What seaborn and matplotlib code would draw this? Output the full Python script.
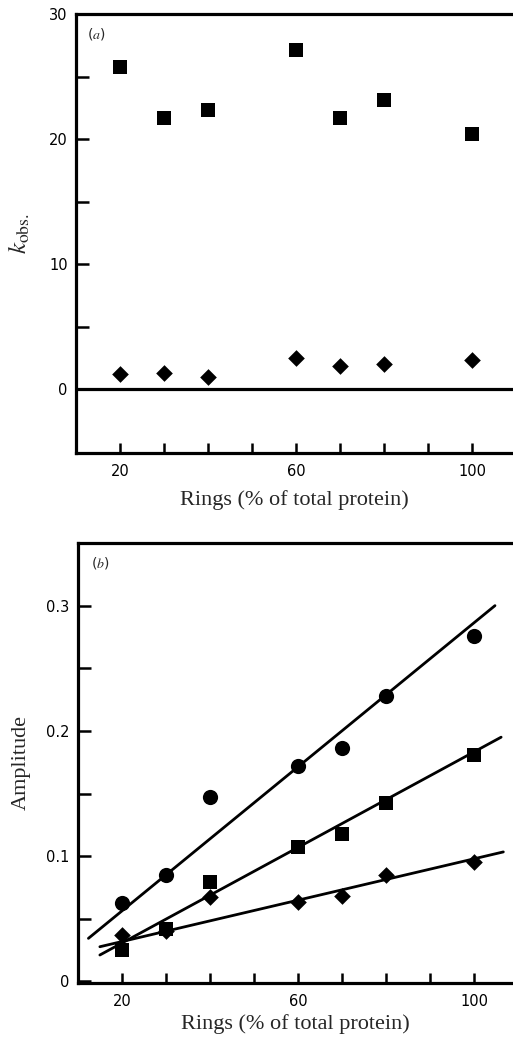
import numpy as np
import pandas as pd
import matplotlib
matplotlib.use("Agg")
import matplotlib.pyplot as plt
import seaborn as sns

# ---------------- data ----------------
rings = [20, 30, 40, 60, 70, 80, 100]

# panel (a): k_obs.
kobs_square = [25.8, 21.7, 22.3, 27.1, 21.7, 23.1, 20.4]
kobs_diamond = [1.25, 1.3, 0.98, 2.5, 1.87, 2.05, 2.3]

# panel (b): amplitude
amp_circle = [0.063, 0.085, 0.147, 0.172, 0.186, 0.2275, 0.2755]
amp_square = [0.025, 0.042, 0.0795, 0.107, 0.118, 0.1425, 0.1805]
amp_diamond = [0.037, 0.040, 0.0676, 0.0636, 0.068, 0.085, 0.0955]

# fitted lines (end points)
line_circle_x = [12.3, 104.7]
line_circle_y = [0.0344, 0.300]
line_square_x = [14.9, 106.1]
line_square_y = [0.0211, 0.195]
line_diamond_x = [14.9, 106.6]
line_diamond_y = [0.0277, 0.1034]

xticks = [20, 30, 40, 50, 60, 70, 80, 90, 100]
xticklabels = ["20", "", "", "", "60", "", "", "", "100"]
yticks_a = [0, 5, 10, 15, 20, 25, 30]
yticklabels_a = ["0", "", "10", "", "20", "", "30"]
yticks_b = [0, 0.05, 0.1, 0.15, 0.2, 0.25, 0.3]
yticklabels_b = ["0", "", "0.1", "", "0.2", "", "0.3"]

xlabel = "Rings (% of total protein)"

# ---------------- style ----------------
sns.set_theme(style="ticks")
plt.rcParams["font.family"] = ["DejaVu Sans"]
plt.rcParams["mathtext.fontset"] = "stix"

W, H = 513, 1042
fig = plt.figure(figsize=(W / 100, H / 100), dpi=100)

def px_axes(left, top, right, bottom):
    return fig.add_axes([left / W, 1 - bottom / H, (right - left) / W, (bottom - top) / H])

ax1 = px_axes(76, 14, 513, 453)
ax2 = px_axes(77.7, 543, 513, 982.7)

spine_lw = 2.3
serif = "Liberation Serif"

def style_axes(ax):
    for s in ["left", "bottom", "top"]:
        ax.spines[s].set_linewidth(spine_lw)
        ax.spines[s].set_color("black")
    ax.spines["right"].set_visible(False)
    ax.tick_params(axis="x", direction="in", length=7, width=1.8, pad=8,
                   labelsize=10.5, colors="black")
    ax.tick_params(axis="y", direction="in", length=9.5, width=1.8, pad=6,
                   labelsize=10.5, colors="black")
    ax.set_facecolor("white")

# ---------------- panel (a) ----------------
df_a = pd.DataFrame({"rings": rings, "sq": kobs_square, "di": kobs_diamond})
sns.scatterplot(data=df_a, x="rings", y="sq", marker="s", s=100, color="black",
                edgecolor="black", linewidth=0, ax=ax1)
sns.scatterplot(data=df_a, x="rings", y="di", marker="D", s=72, color="black",
                edgecolor="black", linewidth=0, ax=ax1)
ax1.axhline(0, color="black", lw=spine_lw)
ax1.set_xlim(10, 10 + (513 - 76) / 4.4)
ax1.set_ylim(-5.1, 30)
ax1.set_xticks(xticks)
ax1.set_xticklabels(xticklabels)
ax1.set_yticks(yticks_a)
ax1.set_yticklabels(yticklabels_a)
style_axes(ax1)
ax1.set_xlabel(xlabel, family=serif, fontsize=16, labelpad=8)
ax1.set_ylabel(r"$k_{\mathrm{obs.}}$", fontsize=18, labelpad=12)
ax1.text(0.025, 0.955, r"($\mathit{a}$)", transform=ax1.transAxes, fontsize=10,
         ha="left", va="center")

# ---------------- panel (b) ----------------
df_b = pd.DataFrame({"rings": rings, "ci": amp_circle, "sq": amp_square, "di": amp_diamond})
for lx, ly in [(line_circle_x, line_circle_y), (line_square_x, line_square_y),
               (line_diamond_x, line_diamond_y)]:
    sns.lineplot(x=lx, y=ly, color="black", lw=2.0, ax=ax2)
sns.scatterplot(data=df_b, x="rings", y="ci", marker="o", s=120, color="black",
                edgecolor="black", linewidth=0, ax=ax2)
sns.scatterplot(data=df_b, x="rings", y="sq", marker="s", s=100, color="black",
                edgecolor="black", linewidth=0, ax=ax2)
sns.scatterplot(data=df_b, x="rings", y="di", marker="D", s=72, color="black",
                edgecolor="black", linewidth=0, ax=ax2)
ax2.set_xlim(20 - (122.3 - 77.7) / 4.4, 20 + (513 - 122.3) / 4.4)
ax2.set_ylim(-0.001, 0.35)
ax2.set_xticks(xticks)
ax2.set_xticklabels(xticklabels)
ax2.set_yticks(yticks_b)
ax2.set_yticklabels(yticklabels_b)
style_axes(ax2)
ax2.set_xlabel(xlabel, family=serif, fontsize=16, labelpad=4)
ax2.set_ylabel("Amplitude", family=serif, fontsize=16, labelpad=11)
ax2.text(0.03, 0.955, r"($\mathit{b}$)", transform=ax2.transAxes, fontsize=10,
         ha="left", va="center")

fig.savefig("out.png", dpi=100, facecolor="white")
